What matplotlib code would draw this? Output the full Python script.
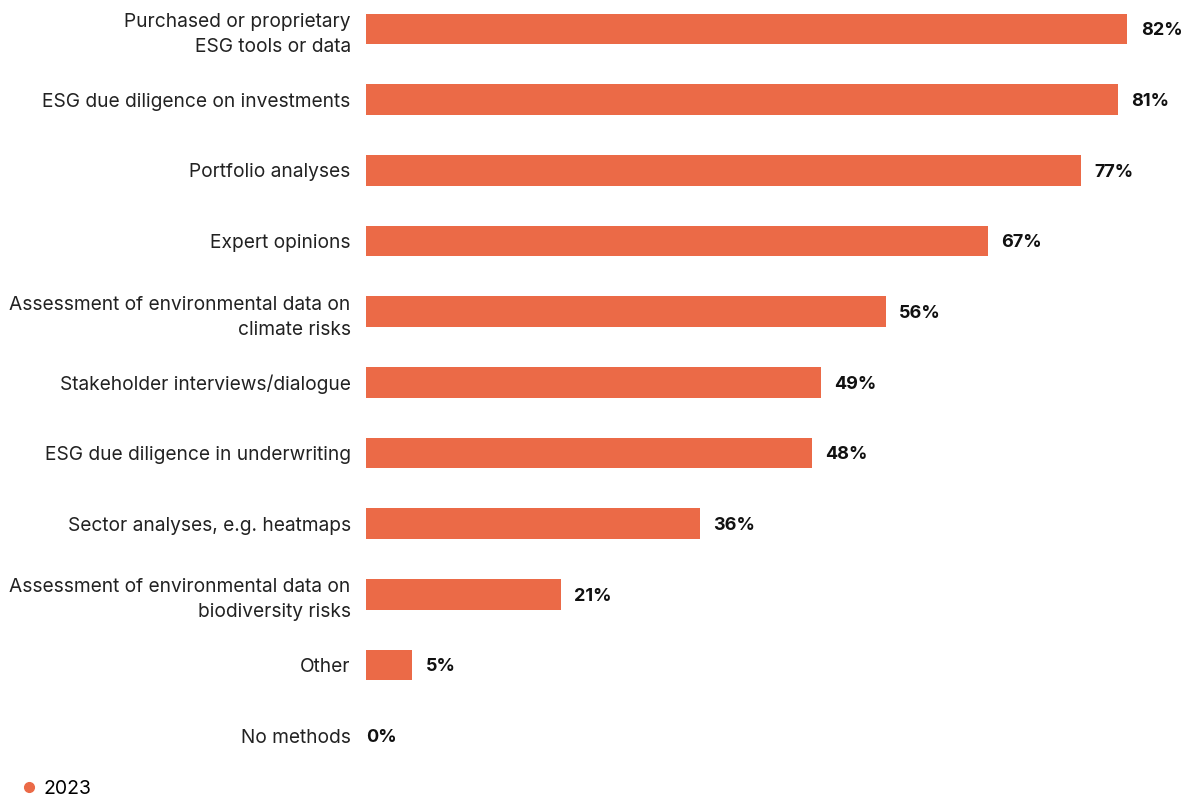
import matplotlib

matplotlib.use("Agg")
import matplotlib.pyplot as plt
from matplotlib.lines import Line2D

plt.rcParams["font.family"] = ["Inter", "DejaVu Sans"]

methods = [
    "Purchased or proprietary\nESG tools or data",
    "ESG due diligence on investments",
    "Portfolio analyses",
    "Expert opinions",
    "Assessment of environmental data on\nclimate risks",
    "Stakeholder interviews/dialogue",
    "ESG due diligence in underwriting",
    "Sector analyses, e.g. heatmaps",
    "Assessment of environmental data on\nbiodiversity risks",
    "Other",
    "No methods",
]
share_2023 = [82, 81, 77, 67, 56, 49, 48, 36, 21, 5, 0]
series_name = "2023"

BAR = "#EB6A47"
W, H = 1186, 800

fig = plt.figure(figsize=(W / 100, H / 100), dpi=100)
ax = fig.add_axes([366 / W, 1 - 771 / H, 1 - 366 / W, 771 / H])

ypos = list(range(len(methods)))
ax.barh(ypos, share_2023, height=0.43, color=BAR)
ax.set_xlim(0, 88.3)
ax.set_ylim(10.5, -0.41)

# value labels just past the bar end (no gap when there is no bar)
for y, v in zip(ypos, share_2023):
    pad = 9.5 if v > 0 else 0
    ax.annotate(f"{v}%", xy=(v, y), xytext=(pad, 0), textcoords="offset points",
                ha="left", va="center_baseline", fontsize=13, fontweight="bold", color="#111111")

ax.set_yticks(ypos)
ax.set_yticklabels(methods, fontsize=13.8, color="#222222", linespacing=1.5)
for lab in ax.get_yticklabels():
    lab.set_horizontalalignment("right")
ax.tick_params(axis="y", length=0, pad=11)
ax.set_xticks([])
for s in ax.spines.values():
    s.set_visible(False)

handle = Line2D([], [], marker="o", linestyle="none", markersize=7, color=BAR)
fig.legend([handle], [series_name], loc="center left", bbox_to_anchor=(10 / W, 1 - 789 / H),
           frameon=False, fontsize=14, handletextpad=0.1, handlelength=1.2, borderaxespad=0)

fig.savefig("out.png", dpi=100)
